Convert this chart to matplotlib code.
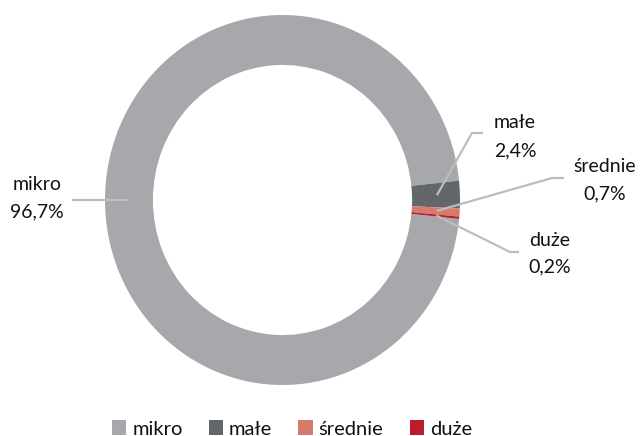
import matplotlib
matplotlib.use('Agg')
import matplotlib.pyplot as plt
import numpy as np

# data
categories = ['mikro', 'małe', 'średnie', 'duże']
shares = [96.7, 2.4, 0.7, 0.2]
share_labels = ['96,7%', '2,4%', '0,7%', '0,2%']
colors = ['#A6A8AB', '#636769', '#D77A6E', '#BC1C2B']

plt.rcParams['font.family'] = ['Lato', 'DejaVu Sans']

W, H = 641, 436
fig = plt.figure(figsize=(W / 100, H / 100), dpi=100)
# donut box in pixels: x 105..460, y 15..385 (from top)
ax = fig.add_axes([105 / W, (H - 385) / H, 355 / W, 370 / H])

# clockwise, mikro ends where male starts (~6 deg above horizontal)
start = 6 + shares[0] * 3.6
wedges, _ = ax.pie(shares, colors=colors, startangle=start, counterclock=False,
                   radius=1.0, wedgeprops=dict(width=0.27, linewidth=0))
ax.set_xlim(-1, 1)
ax.set_ylim(-1, 1)
ax.set_aspect('auto')
ax.axis('off')


def px(x, y):
    # pixel coords (from top-left) -> data coords of the donut axes
    return (x - 282.5) / 177.5, (200 - y) / 185.0


def anchor(w, r=0.87):
    a = np.deg2rad(0.5 * (w.theta1 + w.theta2))
    return r * np.cos(a), r * np.sin(a)


line_kw = dict(color='#BDBDBD', lw=1.6, solid_capstyle='butt')
txt_kw = dict(fontsize=14, color='#111111', ha='center', va='center')

# mikro
ax0, ay0 = anchor(wedges[0])
x1, _ = px(72, 196)
ax.plot([ax0, x1], [ay0, ay0], clip_on=False, **line_kw)
ax.text(*px(37, 184), categories[0], clip_on=False, **txt_kw)
ax.text(*px(37, 212), share_labels[0], clip_on=False, **txt_kw)

# male
a1 = anchor(wedges[1])
e1 = px(472, 133)
h1 = px(483, 133)
ax.plot([a1[0], e1[0], h1[0]], [a1[1], e1[1], h1[1]], clip_on=False, **line_kw)
ax.text(*px(515, 122), categories[1], clip_on=False, **txt_kw)
ax.text(*px(515, 151), share_labels[1], clip_on=False, **txt_kw)

# srednie
a2 = anchor(wedges[2])
e2 = px(552, 178)
h2 = px(564, 178)
ax.plot([a2[0], e2[0], h2[0]], [a2[1], e2[1], h2[1]], clip_on=False, **line_kw)
ax.text(*px(605, 166), categories[2], clip_on=False, **txt_kw)
ax.text(*px(605, 194), share_labels[2], clip_on=False, **txt_kw)

# duze
a3 = anchor(wedges[3])
e3 = px(510, 252)
h3 = px(519, 252)
ax.plot([a3[0], e3[0], h3[0]], [a3[1], e3[1], h3[1]], clip_on=False, **line_kw)
ax.text(*px(550, 240), categories[3], clip_on=False, **txt_kw)
ax.text(*px(550, 267), share_labels[3], clip_on=False, **txt_kw)

# legend along the bottom edge
fig.legend(wedges, categories, loc='center', bbox_to_anchor=(292 / W, (H - 429) / H),
           ncol=4, frameon=False, fontsize=14.5, handlelength=0.7, handleheight=0.7,
           handletextpad=0.3, columnspacing=1.3, borderpad=0, labelcolor='#111111')

fig.savefig('out.png', dpi=100)
